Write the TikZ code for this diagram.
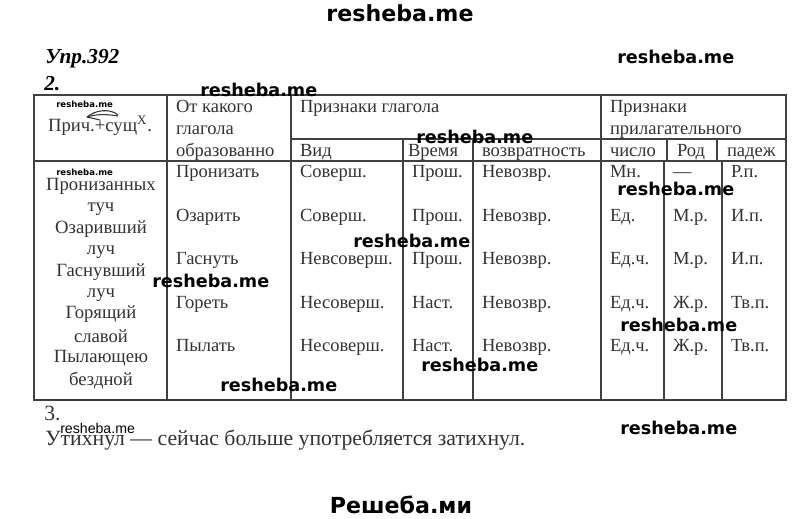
\documentclass[tikz,border=0pt]{standalone}
\usepackage{fontspec}
\setmainfont{Liberation Serif}
\newfontfamily\wmfont{DejaVu Sans}
\newfontfamily\lsfont{Liberation Sans}
\usetikzlibrary{arrows.meta}
\newcommand{\fs}[1]{\fontsize{#1}{#1}\selectfont}
\tikzset{
 x=0.75pt,y=-0.75pt,
 rule/.style={draw=black!75,line width=0.9pt},
 cell/.style={anchor=base west,inner sep=0pt,outer sep=0pt,text=black!80,font=\fs{13.9}},
 ctr/.style={anchor=base,inner sep=0pt,outer sep=0pt,text=black!80,font=\fs{14}},
 wm/.style={anchor=base west,inner sep=0pt,font=\wmfont\bfseries\fs{13.2},text=black},
 wmbig/.style={anchor=base,inner sep=0pt,font=\wmfont\bfseries\fs{16.6},text=black},
 wmsmall/.style={anchor=base west,inner sep=0pt,font=\wmfont\bfseries\fs{6.4},text=black},
}
\begin{document}
\begin{tikzpicture}
\useasboundingbox (0,0) rectangle (800,518);
\fill[white] (0,0) rectangle (800,518);
% table rules
\draw[rule] (34,95) rectangle (786,400);
\draw[rule] (34,161) -- (786,161);
\draw[rule] (291,139) -- (786,139);
\draw[rule] (167,95) -- (167,400);
\draw[rule] (291,95) -- (291,400);
\draw[rule] (601,95) -- (601,400);
\draw[rule] (403,139) -- (403,400);
\draw[rule] (473,139) -- (473,400);
\draw[rule] (667,139) -- (667,161);
\draw[rule] (717,139) -- (717,161);
\draw[rule] (664,161) -- (664,400);
\draw[rule] (722,161) -- (722,400);
% headings
\node[anchor=base west,inner sep=0pt,font=\bfseries\itshape\fs{16}] (upr) at (45,63) {Упр.392};
\node[anchor=base west,inner sep=0pt,font=\bfseries\itshape\fs{16}] (two) at (44,90) {2.};
% header cells
\draw[black!80,line width=0.8pt] (118,115) .. controls (110,108) and (95,110) .. (87,117);
\draw[black!80,line width=0.8pt] (87,117) .. controls (96,114) and (106,114) .. (118,116);
\draw[black!80,line width=0.8pt] (87,117) -- (100,120);
\node[ctr] (h1) at (100,131) {Прич.+сущ\textsuperscript{Х}.};
\node[cell] (h2a) at (176,112) {От какого};
\node[cell] (h2b) at (176,134) {глагола};
\node[cell] (h2c) at (176,156) {образованно};
\node[cell] (h3) at (300,112) {Признаки глагола};
\node[cell] (h4a) at (610,112) {Признаки};
\node[cell] (h4b) at (610,134) {прилагательного};
\node[cell] (s1) at (300,156) {Вид};
\node[cell] (s2) at (408,156) {Время};
\node[cell] (s3) at (482,156) {возвратность};
\node[cell] (s4) at (610,156) {число};
\node[cell] (s5) at (677,156) {Род};
\node[cell] (s6) at (727,156) {падеж};
% first column
\node[ctr] (a1) at (101,190) {Пронизанных};
\node[ctr] (a2) at (101,211) {туч};
\node[ctr] (a3) at (101,233) {Озаривший};
\node[ctr] (a4) at (101,254) {луч};
\node[ctr] (a5) at (101,276) {Гаснувший};
\node[ctr] (a6) at (101,297) {луч};
\node[ctr] (a7) at (101,318) {Горящий};
\node[ctr] (a8) at (101,342) {славой};
\node[ctr] (a9) at (101,362) {Пылающею};
\node[ctr] (a10) at (101,385) {бездной};
% row 1
\node[cell] (b1) at (176,177) {Пронизать};
\node[cell] (c1) at (300,177) {Соверш.};
\node[cell] (d1) at (412,177) {Прош.};
\node[cell] (e1) at (482,177) {Невозвр.};
\node[cell] (f1) at (610,177) {Мн.};
\node[cell] (g1) at (673,177) {—};
\node[cell] (k1) at (731,177) {Р.п.};
% row 2
\node[cell] (b2) at (176,221) {Озарить};
\node[cell] (c2) at (300,221) {Соверш.};
\node[cell] (d2) at (412,221) {Прош.};
\node[cell] (e2) at (482,221) {Невозвр.};
\node[cell] (f2) at (610,221) {Ед.};
\node[cell] (g2) at (673,221) {М.р.};
\node[cell] (k2) at (731,221) {И.п.};
% row 3
\node[cell] (b3) at (176,264) {Гаснуть};
\node[cell] (c3) at (300,264) {Невсоверш.};
\node[cell] (d3) at (412,264) {Прош.};
\node[cell] (e3) at (482,264) {Невозвр.};
\node[cell] (f3) at (610,264) {Ед.ч.};
\node[cell] (g3) at (673,264) {М.р.};
\node[cell] (k3) at (731,264) {И.п.};
% row 4
\node[cell] (b4) at (176,308) {Гореть};
\node[cell] (c4) at (300,308) {Несоверш.};
\node[cell] (d4) at (412,308) {Наст.};
\node[cell] (e4) at (482,308) {Невозвр.};
\node[cell] (f4) at (610,308) {Ед.ч.};
\node[cell] (g4) at (673,308) {Ж.р.};
\node[cell] (k4) at (731,308) {Тв.п.};
% row 5
\node[cell] (b5) at (176,351) {Пылать};
\node[cell] (c5) at (300,351) {Несоверш.};
\node[cell] (d5) at (412,351) {Наст.};
\node[cell] (e5) at (482,351) {Невозвр.};
\node[cell] (f5) at (610,351) {Ед.ч.};
\node[cell] (g5) at (673,351) {Ж.р.};
\node[cell] (k5) at (731,351) {Тв.п.};
% section 3
\node[anchor=base west,inner sep=0pt,text=black!80,font=\fs{16.3}] (three) at (44,420) {3.};
\node[anchor=base west,inner sep=0pt,text=black!80,font=\fs{16.3}] (note) at (45,445) {Утихнул — сейчас больше употребляется затихнул.};
% watermarks
\node[wmbig] (w1) at (400,21) {resheba.me};
\node[wmbig] (w2) at (401,513) {Решеба.ми};
\node[wm] (w3) at (617,63) {resheba.me};
\node[wm] (w4) at (200,96) {resheba.me};
\node[wm] (w5) at (416,143) {resheba.me};
\node[wm] (w6) at (617,195) {resheba.me};
\node[wm] (w7) at (353,247) {resheba.me};
\node[wm] (w8) at (152,287) {resheba.me};
\node[wm] (w9) at (620,331) {resheba.me};
\node[wm] (w10) at (220,391) {resheba.me};
\node[wm] (w11) at (421,371) {resheba.me};
\node[wm] (w12) at (620,434) {resheba.me};
\node[wmsmall] (w13) at (56,107) {resheba.me};
\node[wmsmall] (w14) at (56,175) {resheba.me};
\node[anchor=base west,inner sep=0pt,font=\lsfont\fs{10.6}] (w15) at (60,433) {resheba.me};
\end{tikzpicture}
\end{document}
